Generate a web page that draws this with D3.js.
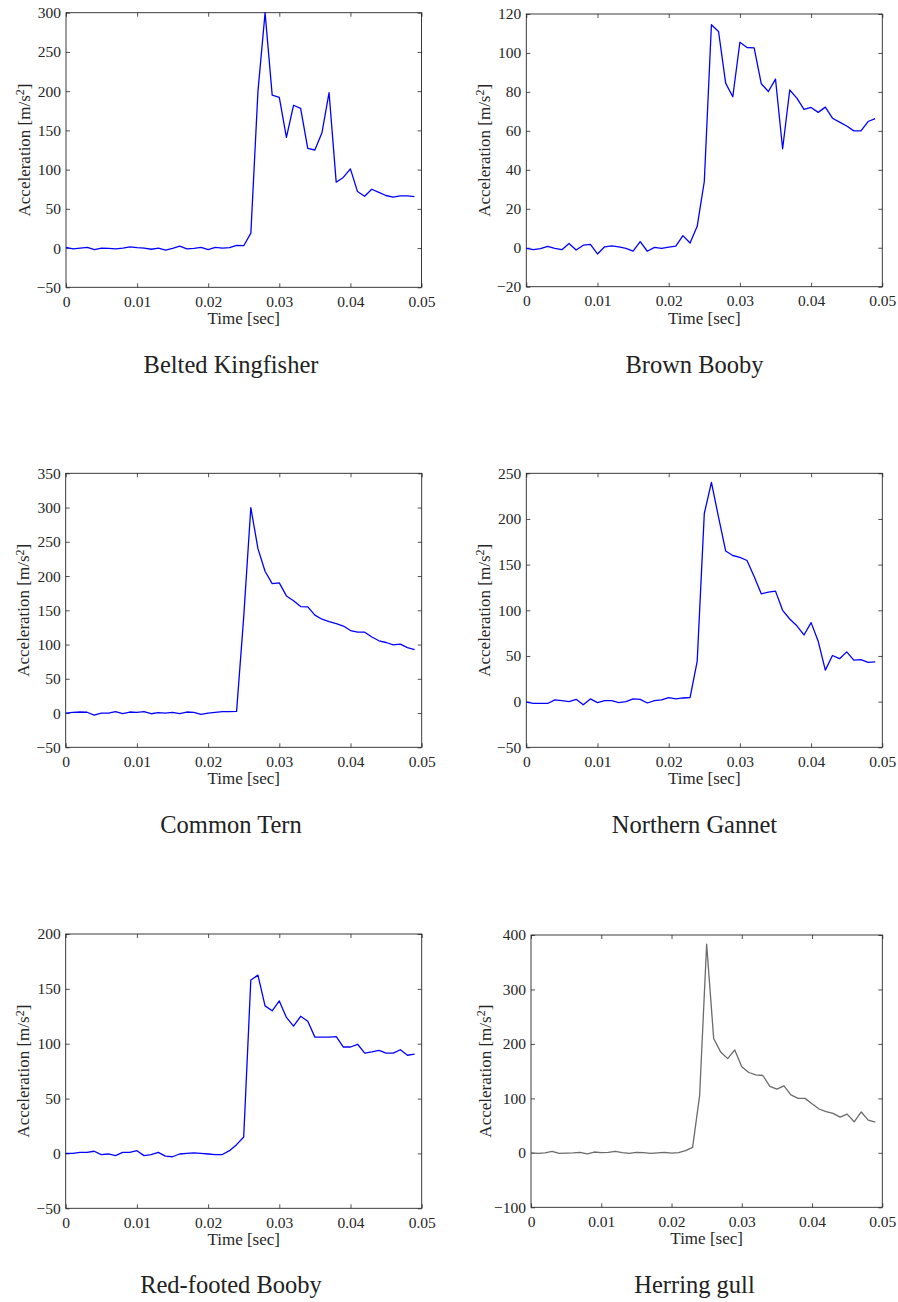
<!DOCTYPE html>
<html>
<head>
<meta charset="utf-8">
<script src="https://cdn.jsdelivr.net/npm/d3@7"></script>
<style>
  body { margin: 0; background: #fff; }
  svg { display: block; }
</style>
</head>
<body>
<script>
// sample times (s)
const timeSec = [0, 0.001, 0.002, 0.003, 0.004, 0.005, 0.006, 0.007, 0.008, 0.009,
  0.010, 0.011, 0.012, 0.013, 0.014, 0.015, 0.016, 0.017, 0.018, 0.019,
  0.020, 0.021, 0.022, 0.023, 0.024, 0.025, 0.026, 0.027, 0.028, 0.029,
  0.030, 0.031, 0.032, 0.033, 0.034, 0.035, 0.036, 0.037, 0.038, 0.039,
  0.040, 0.041, 0.042, 0.043, 0.044, 0.045, 0.046, 0.047, 0.048, 0.049];

const birds = ["Belted Kingfisher", "Brown Booby", "Common Tern", "Northern Gannet", "Red-footed Booby", "Herring gull"];

// acceleration values (m/s^2)
const beltedKingfisher = [1, -1, 0, 1, -2, 0, -0.5, -1, 0, 1.5,
  0.5, 0, -1.5, 0, -2.5, -0.5, 2.5, -1, -0.5, 1,
  -2, 1, 0, 0.5, 3.5, 3, 19, 200, 300, 195,
  192, 141, 182, 178, 127, 125, 147, 198, 84, 90,
  101, 72, 66, 75, 71, 67, 65, 66.5, 66.5, 65.5];
const brownBooby = [-0.3, -1, -0.5, 0.7, -0.3, -1, 2.2, -1.2, 1.3, 1.7,
  -3.2, 0.5, 1, 0.5, -0.3, -1.7, 3.1, -1.8, 0.2, -0.3,
  0.3, 0.8, 6.2, 2.4, 11, 34, 114.5, 111, 84.5, 77.5,
  105.5, 102.8, 102.6, 84.2, 80.2, 86.6, 50.8, 81, 76.8, 71,
  72, 69.5, 72.2, 66.5, 64.5, 62.5, 60, 60, 64.8, 66.3];
const commonTern = [0, 1, 1.5, 1.2, -3, 0, 0, 2, -1, 1.5,
  1, 2, -1, 0.5, 0, 1, -1, 1.5, 1, -2,
  0, 1, 2, 2, 2.5, 140, 300, 240, 207, 189,
  190, 171, 164, 155.5, 155, 143, 137, 133.5, 130.7, 127,
  120.5, 118, 118, 111, 105.5, 103, 99.5, 100.5, 95.5, 92.5];
const northernGannet = [-0.5, -2, -2, -2, 2, 1, 0, 2.5, -3.5, 3,
  -1, 1, 1, -1, 0, 3, 2.5, -1.5, 1, 2,
  4.5, 3, 4, 4.5, 44, 206, 240, 202, 165, 160,
  158, 154.5, 137, 118, 120, 121, 100, 90.5, 83, 73,
  86.5, 66, 34.5, 50.5, 47, 54.5, 45.5, 46, 43, 43.5];
const redFootedBooby = [0, 0, 1, 1, 2, -1, -0.5, -2, 1, 1,
  2.5, -2, -1, 1, -2.5, -3, -0.5, 0, 0.5, 0,
  -0.5, -1, -1, 2.5, 8, 15, 158, 162.5, 134.5, 130,
  139, 124, 116, 125, 120.5, 106, 106, 106, 106.5, 97,
  97, 99.5, 91.5, 92.5, 94, 91.5, 91.5, 94.5, 89.5, 90.5];
const herringGull = [0, -1, 0, 2.5, -1, -0.5, 0, 1, -2, 1.5,
  0.5, 1, 2.5, 0.5, -1, 1, 0.5, -1, 0, 1,
  -0.5, 0.5, 4, 10, 105, 383, 210, 185, 173, 189,
  158, 147.5, 143, 142, 122, 117, 123, 106.5, 100, 100,
  90, 80.5, 75.5, 72.5, 65.5, 71, 57, 75, 60, 56.5];

const seriesList = [beltedKingfisher, brownBooby, commonTern, northernGannet, redFootedBooby, herringGull];
const yDomains = [[-50, 300], [-20, 120], [-50, 350], [-50, 250], [-50, 200], [-100, 400]];
const yTickLists = [
  [-50, 0, 50, 100, 150, 200, 250, 300],
  [-20, 0, 20, 40, 60, 80, 100, 120],
  [-50, 0, 50, 100, 150, 200, 250, 300, 350],
  [-50, 0, 50, 100, 150, 200, 250],
  [-50, 0, 50, 100, 150, 200],
  [-100, 0, 100, 200, 300, 400]
];
const xTicks = [0, 0.01, 0.02, 0.03, 0.04, 0.05];
const lineColors = ["#0000ff", "#0000ff", "#0000ff", "#0000ff", "#0000ff", "#6b6b6b"];

// plot boxes (pixels)
const boxes = [
  {left: 66, right: 421.5, top: 12.7, bottom: 287.3},
  {left: 526.3, right: 882.3, top: 14, bottom: 286.7},
  {left: 65.7, right: 421.7, top: 473.3, bottom: 747.3},
  {left: 526.3, right: 882.3, top: 473.3, bottom: 747.3},
  {left: 65.7, right: 421.7, top: 934, bottom: 1208.3},
  {left: 531, right: 882.3, top: 935, bottom: 1207.3}
];
const titleX = [231, 694.5];
const titleY = [373, 833, 1293];

const axisColor = "#262626";
const serifFont = "'Liberation Serif', 'Times New Roman', serif";

let svg = d3.select("body").append("svg")
    .attr("width", 898)
    .attr("height", 1302);

birds.forEach(function (name, i) {
    let b = boxes[i];
    let w = b.right - b.left, h = b.bottom - b.top;
    let g = svg.append("g")
        .attr("transform", "translate(" + b.left + "," + b.top + ")");

    let x = d3.scaleLinear().domain([0, 0.05]).range([0, w]);
    let y = d3.scaleLinear().domain(yDomains[i]).range([h, 0]);

    let fmtX = d => d === 0 ? "0" : d.toFixed(2);

    // bottom axis with labels, ticks pointing in
    let ax = g.append("g")
        .attr("transform", "translate(0," + h + ")")
        .call(d3.axisBottom(x).tickValues(xTicks).tickFormat(fmtX).tickSize(-4).tickPadding(8.5));
    // top axis, no labels
    let axTop = g.append("g")
        .call(d3.axisTop(x).tickValues(xTicks).tickFormat("").tickSize(-4));
    // left axis
    let ay = g.append("g")
        .call(d3.axisLeft(y).tickValues(yTickLists[i]).tickSize(-4).tickPadding(5));
    // right axis
    let ayR = g.append("g")
        .attr("transform", "translate(" + w + ",0)")
        .call(d3.axisRight(y).tickValues(yTickLists[i]).tickFormat("").tickSize(-4));

    [ax, axTop, ay, ayR].forEach(a => {
        a.attr("font-family", serifFont).attr("font-size", 15.5);
        a.select(".domain").remove();
        a.selectAll("line").attr("stroke", axisColor).attr("stroke-width", 0.8);
        a.selectAll("text").attr("fill", axisColor);
    });

    // frame
    g.append("rect")
        .attr("width", w)
        .attr("height", h)
        .attr("fill", "none")
        .attr("stroke", axisColor)
        .attr("stroke-width", 0.9);

    // the line
    let pts = timeSec.map((t, k) => [t, seriesList[i][k]]);
    g.append("path")
        .datum(pts)
        .attr("fill", "none")
        .attr("stroke", lineColors[i])
        .attr("stroke-width", 1.3)
        .attr("stroke-linejoin", "round")
        .attr("d", d3.line().x(d => x(d[0])).y(d => y(d[1])));

    // axis titles
    g.append("text")
        .attr("x", w / 2)
        .attr("y", h + 37)
        .attr("text-anchor", "middle")
        .attr("fill", axisColor)
        .attr("font-family", serifFont)
        .attr("font-size", 17)
        .text("Time [sec]");

    let yl = g.append("text")
        .attr("transform", "translate(" + (i === 5 ? -40.5 : -36.5) + "," + (h / 2) + ") rotate(-90)")
        .attr("text-anchor", "middle")
        .attr("fill", axisColor)
        .attr("font-family", serifFont)
        .attr("font-size", 17);
    yl.append("tspan").text("Acceleration [m/s");
    yl.append("tspan").attr("dy", "-0.45em").attr("font-size", 12).text("2");
    yl.append("tspan").attr("dy", "0.32em").text("]");

    // bird name below
    svg.append("text")
        .attr("x", titleX[i % 2])
        .attr("y", titleY[Math.floor(i / 2)])
        .attr("text-anchor", "middle")
        .attr("fill", "#222")
        .attr("font-family", serifFont)
        .attr("font-size", 24.5)
        .text(name);
});
</script>
</body>
</html>
